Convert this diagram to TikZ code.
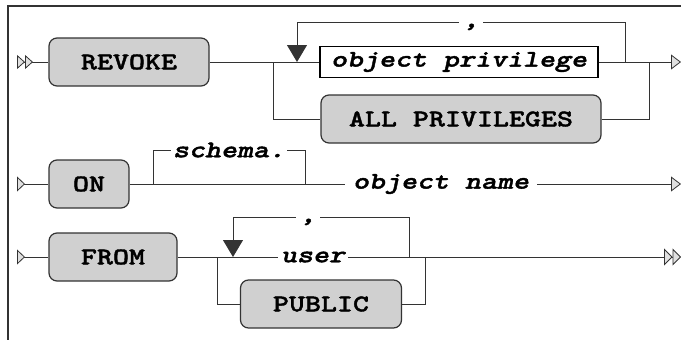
\documentclass[tikz,border=0pt]{standalone}
\usepackage{fontspec}
\usetikzlibrary{arrows.meta,positioning}

\newfontfamily\railfont{lmmonolt10-bold.otf}[
  ItalicFont=lmmonolt10-boldoblique.otf, FakeStretch=1.27, FakeBold=1.6]

\definecolor{boxgray}{HTML}{D0D0D0}
\definecolor{railgray}{HTML}{333333}

\newcommand{\kw}[1]{{\fontsize{24}{28}\railfont #1}}
\newcommand{\nt}[1]{{\fontsize{24}{28}\railfont\itshape #1}}

\tikzset{
  kwbox/.style={draw=railgray, fill=boxgray, line width=1.2pt, rounded corners=8pt,
    minimum height=48pt, inner xsep=0pt},
  ntbox/.style={draw=black, fill=white, line width=1.2pt, minimum height=31pt, inner xsep=0pt},
  label/.style={inner xsep=#1, inner ysep=0pt},
  label/.default=3pt,
  commagap/.style={inner xsep=4pt, inner ysep=0pt, minimum height=8pt},
  commamark/.style={anchor=base, inner sep=0pt},
  rail/.style={draw=railgray, line width=0.9pt},
  railin/.tip={Triangle[reversed,length=8pt,width=15pt,fill=black!12,line width=0.8pt]},
  railinin/.tip={Triangle[reversed,length=8pt,width=14pt,fill=black!12,line width=0.8pt]
    Triangle[reversed,length=8pt,width=14pt,fill=black!12,line width=0.8pt]},
  railout/.tip={Triangle[length=10pt,width=15pt,fill=black!12,line width=0.8pt]},
  railoutout/.tip={Triangle[length=8.5pt,width=17pt,fill=black!12,line width=0.8pt]
    Triangle[length=8.5pt,width=17pt,fill=black!12,line width=0.8pt]},
  railloop/.tip={Triangle[length=17pt,width=20pt]},
}

\begin{document}
\begin{tikzpicture}[x=1pt,y=-1pt]
  \useasboundingbox (0,0) rectangle (681,340);
  % frame
  \draw[railgray, line width=1.3pt] (681,6) -| (8,340);

  % REVOKE row
  \node[kwbox, minimum width=160pt] (revoke) at (129,62) {\kw{REVOKE}};
  \node[ntbox, minimum width=278pt] (objpriv) at (459,62) {\nt{object privilege}};
  \node[kwbox, minimum width=280pt] (allpriv) at (461,119) {\kw{ALL PRIVILEGES}};
  \node[commagap] (comma1) at (471,22) {\phantom{\nt{,}}};
  \node[commamark] at (471,27) {\nt{,}};
  \coordinate (in1) at (17,62);
  \coordinate (split1) at (273,62);
  \coordinate (back1) at (297,62);
  \coordinate (loop1) at (625,62);
  \coordinate (join1) at (649,62);
  \coordinate (out1) at (681,62);
  \draw[rail, railinin-] (in1) -- (revoke);
  \draw[rail] (revoke) -- (objpriv);
  \draw[rail] (split1) |- (allpriv);
  \draw[rail, -railout] (objpriv) -- (out1);
  \draw[rail] (allpriv) -| (join1);
  \draw[rail] (loop1) |- (comma1);
  \draw[rail, -railloop] (comma1) -| (back1);

  % ON row
  \node[kwbox, minimum width=80pt] (on) at (89,184) {\kw{ON}};
  \node[label=2pt] (schema) at (229,150) {\nt{schema.}};
  \node[label=8pt] (objname) at (441,184) {\nt{object name}};
  \coordinate (in2) at (17,184);
  \coordinate (split2) at (153,184);
  \coordinate (join2) at (305,184);
  \coordinate (out2) at (681,184);
  \draw[rail, railin-] (in2) -- (on);
  \draw[rail] (on) -- (objname);
  \draw[rail] (split2) |- (schema);
  \draw[rail] (schema) -| (join2);
  \draw[rail, -railout] (objname) -- (out2);

  % FROM row
  \node[kwbox, minimum width=128pt] (from) at (113,257) {\kw{FROM}};
  \node[label=3pt] (user) at (313,257) {\nt{user}};
  \node[kwbox, minimum width=161pt] (public) at (321,304) {\kw{PUBLIC}};
  \node[commagap] (comma2) at (308,217) {\phantom{\nt{,}}};
  \node[commamark] at (308,222) {\nt{,}};
  \coordinate (in3) at (17,257);
  \coordinate (split3) at (217,257);
  \coordinate (back2) at (233,257);
  \coordinate (loop2) at (409,257);
  \coordinate (join3) at (425,257);
  \coordinate (out3) at (681,257);
  \draw[rail, railin-] (in3) -- (from);
  \draw[rail] (from) -- (user);
  \draw[rail] (split3) |- (public);
  \draw[rail, -railoutout] (user) -- (out3);
  \draw[rail] (public) -| (join3);
  \draw[rail] (loop2) |- (comma2);
  \draw[rail, -railloop] (comma2) -| (back2);
\end{tikzpicture}
\end{document}
